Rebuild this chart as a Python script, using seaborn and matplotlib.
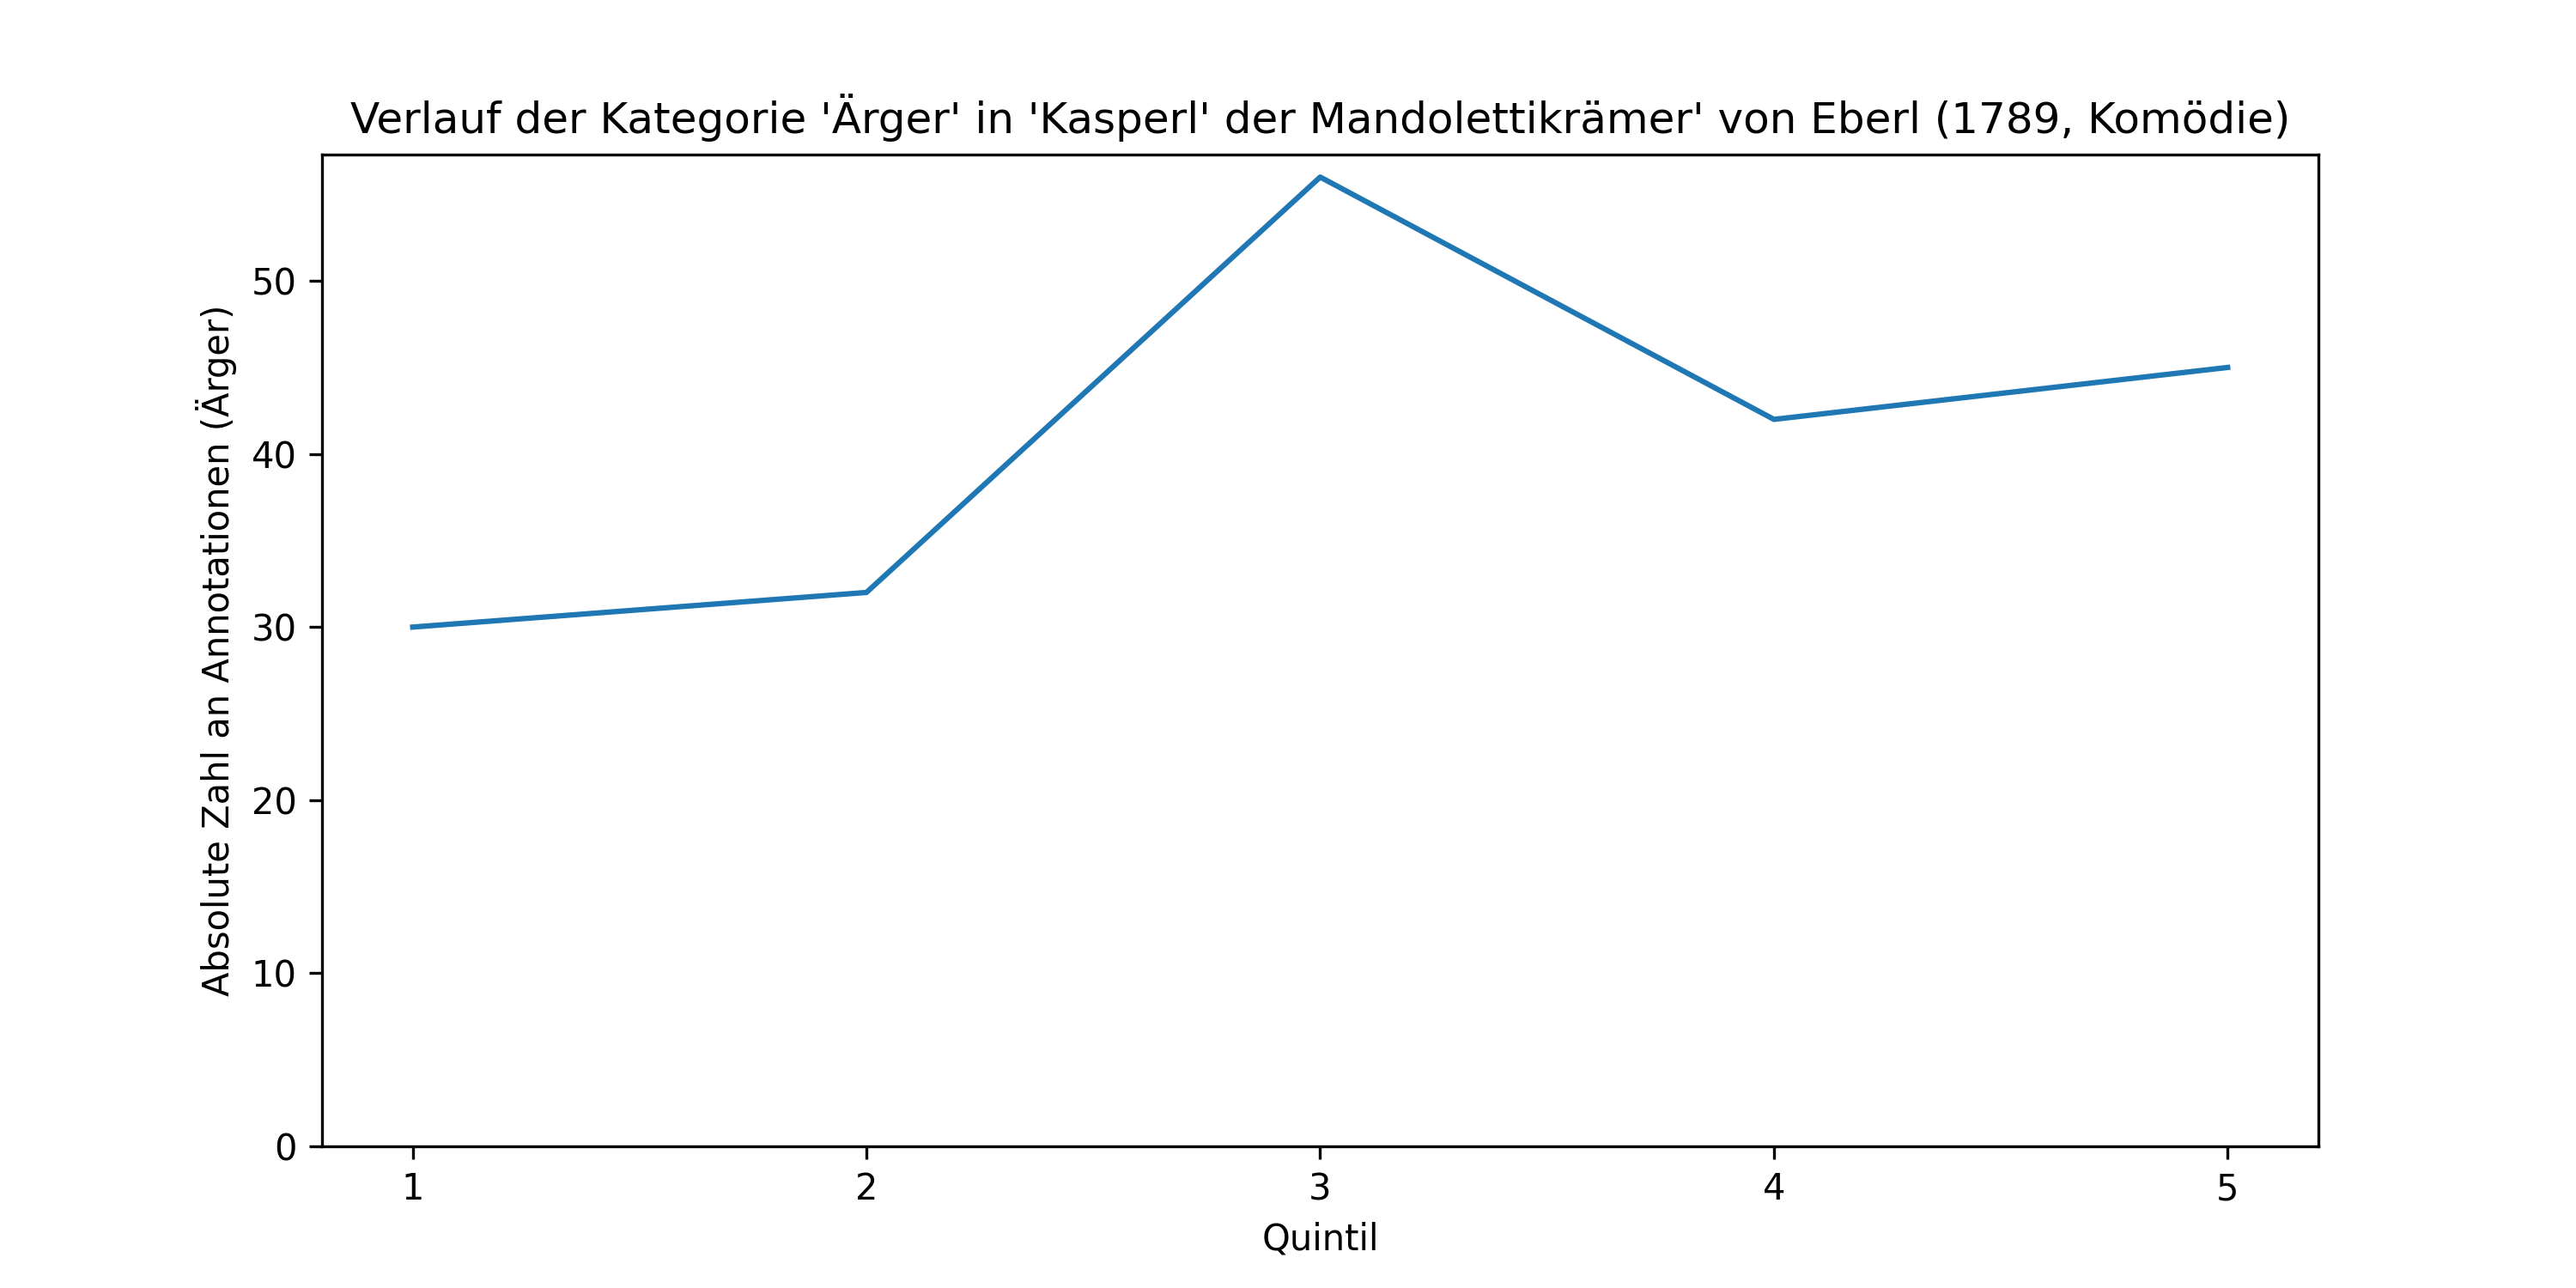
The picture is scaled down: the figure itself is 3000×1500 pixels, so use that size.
import pandas as pd
import seaborn as sns
import matplotlib.pyplot as plt

# Werte pro Quintil
quintile = [1, 2, 3, 4, 5]
aerger = [30, 32, 56, 42, 45]

df = pd.DataFrame({'Quintil': quintile, 'Anzahl': aerger})

fig, ax = plt.subplots(figsize=(10, 5))
sns.lineplot(data=df, x='Quintil', y='Anzahl', ax=ax)
ax.set_ylim(bottom=0)
ax.set_xticks(quintile)
ax.set_xlabel('Quintil')
ax.set_ylabel('Absolute Zahl an Annotationen (Ärger)')
ax.set_title("Verlauf der Kategorie 'Ärger' in 'Kasperl' der Mandolettikrämer' von Eberl (1789, Komödie)")

plt.savefig('out.png', dpi=300)
